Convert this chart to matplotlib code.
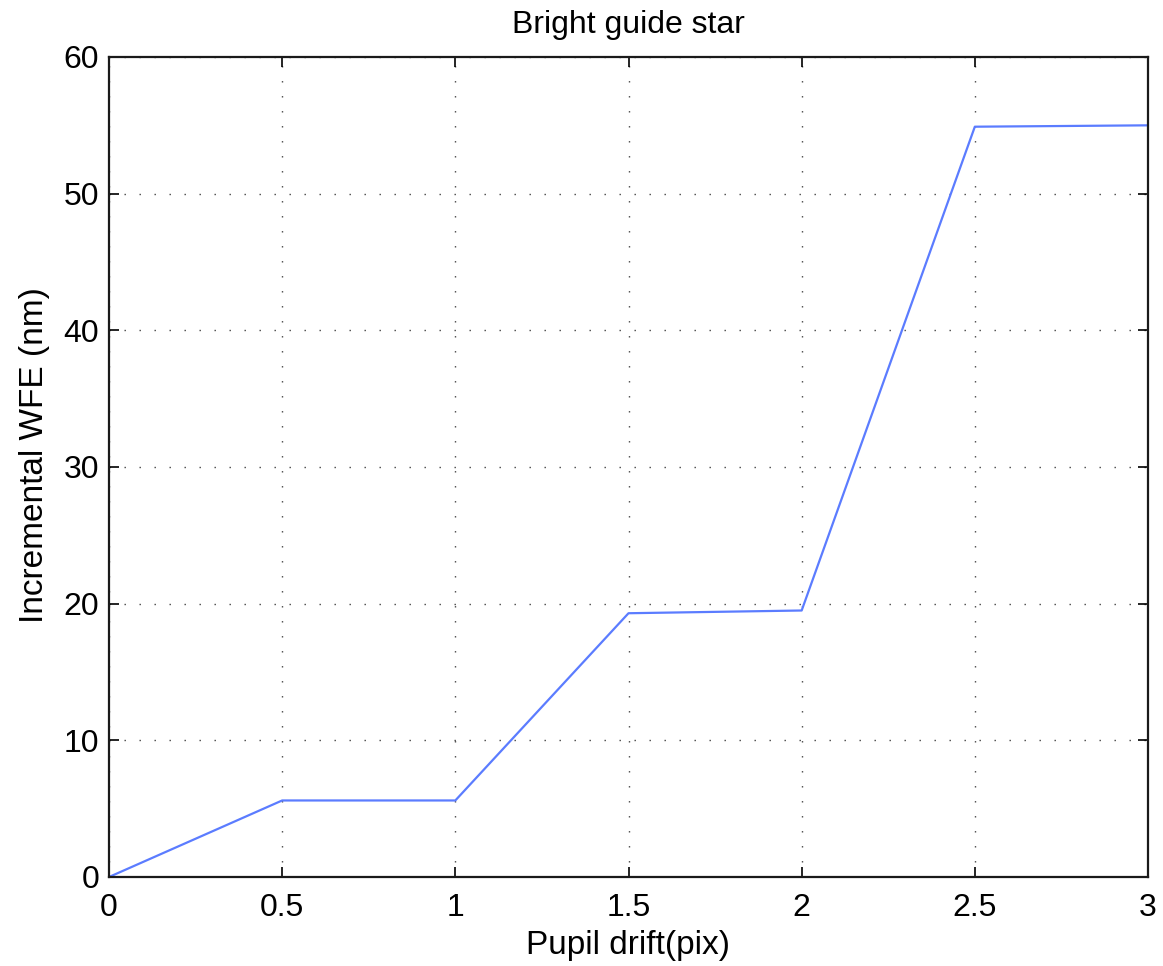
import matplotlib
matplotlib.use("Agg")
import matplotlib.pyplot as plt

# Incremental wavefront error versus pupil drift
pupil_drift = [0, 0.5, 1.0, 1.5, 2.0, 2.5, 3.0]
wfe_nm = [0.0, 5.6, 5.6, 19.3, 19.5, 54.9, 55.0]
x_ticks = [0, 0.5, 1, 1.5, 2, 2.5, 3]
x_tick_labels = ["0", "0.5", "1", "1.5", "2", "2.5", "3"]
y_ticks = [0, 10, 20, 30, 40, 50, 60]

plt.rcParams["font.family"] = ["Liberation Sans", "DejaVu Sans"]

fig = plt.figure(figsize=(11.63, 9.66), dpi=100)
ax = fig.add_axes([109 / 1163, 1 - 877 / 966, (1148 - 109) / 1163, (877 - 57) / 966])

ax.plot(pupil_drift, wfe_nm, color="#5b7cff", linewidth=1.6)

ax.set_xlim(0, 3)
ax.set_ylim(0, 60)
ax.set_xticks(x_ticks)
ax.set_xticklabels(x_tick_labels)
ax.set_yticks(y_ticks)

ax.grid(True, linestyle=(0, (1, 9.8)), color="#444444", linewidth=1.0)
ax.tick_params(direction="in", length=7, width=1.2, top=True, right=True,
               labelsize=23)
ax.tick_params(axis="x", pad=11.5)
ax.tick_params(axis="y", pad=7)
for spine in ax.spines.values():
    spine.set_linewidth(1.6)
    spine.set_color("#1a1a1a")

ax.set_xlabel("Pupil drift(pix)", fontsize=24, labelpad=5)
ax.set_ylabel("Incremental WFE (nm)", fontsize=24, labelpad=10)
ax.yaxis.label.set_y(0.515)
ax.set_title("Bright guide star", fontsize=23, pad=17)

fig.savefig("out.png", dpi=100)
